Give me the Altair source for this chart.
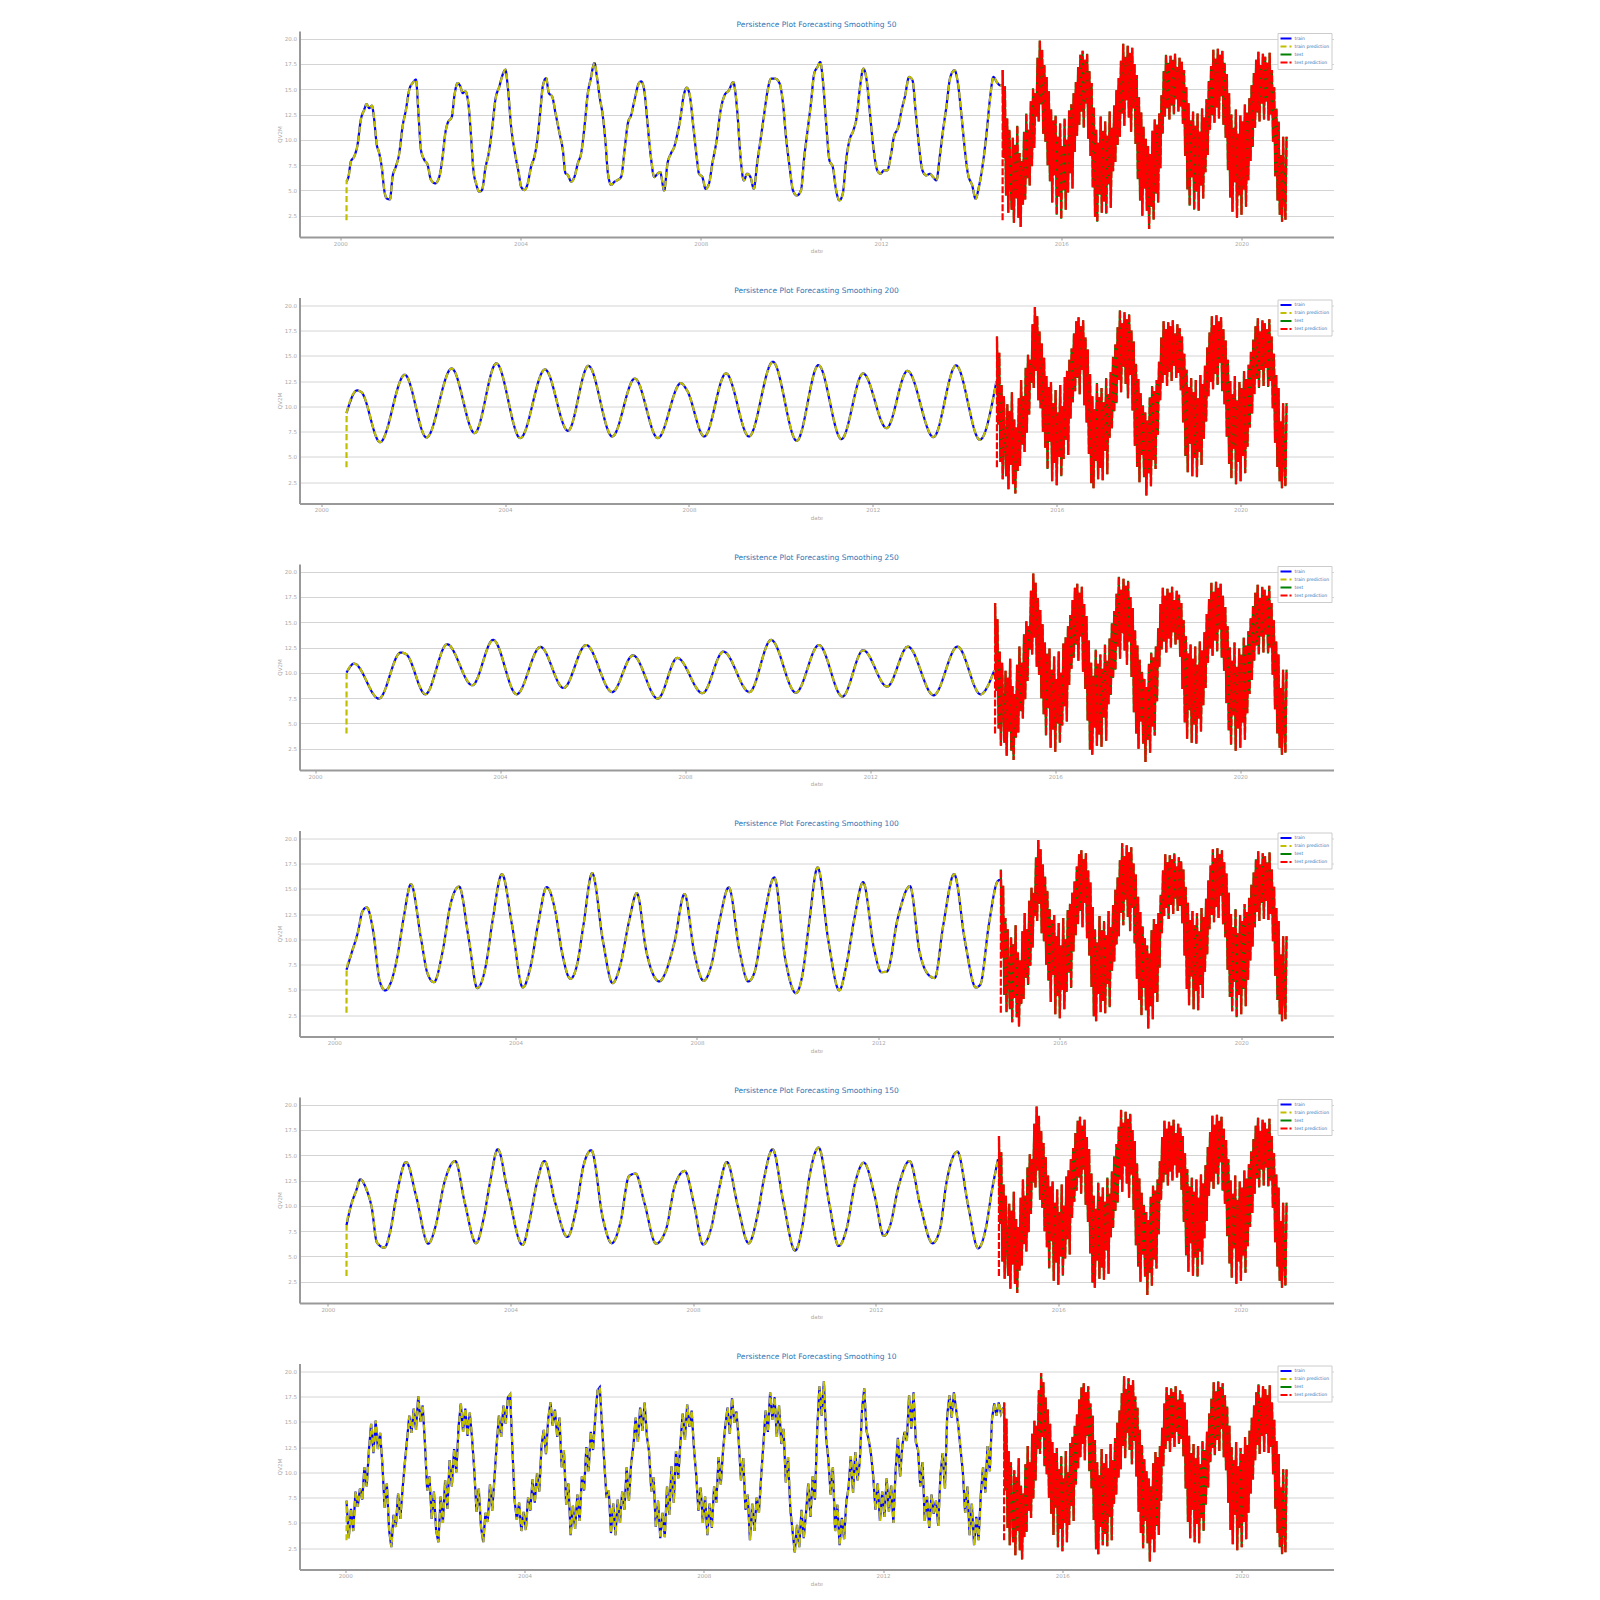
import altair as alt
import pandas as pd

DAY = 1.0 / 365.25
DATA_END = 2021.0

SERIES = ["train", "train prediction", "test", "test prediction"]
SERIES_COLORS = ["#0000ff", "#bfbf00", "#008000", "#ff0000"]
SERIES_DASH = [[1, 0], [6, 3], [1, 0], [7, 2]]
X_TICKS = [2000, 2004, 2008, 2012, 2016, 2020]
Y_TICKS = [2.5, 5.0, 7.5, 10.0, 12.5, 15.0, 17.5, 20.0]
Y_DOMAIN = [0.4, 20.75]

# ---------------- test series (shared by all panels) ----------------
TEST_VALUES = [
    16.9, 8.2, 15.3, 4.5, 12.1, 2.8, 11.0, 6.3, 3.1, 10.2,
    1.8, 9.5, 4.2, 11.4, 2.3, 8.7, 1.4, 7.9, 3.6, 10.8,
    4.1, 12.6, 6.2, 11.0, 5.5, 13.8, 7.4, 15.1, 9.2, 14.6,
    12.3, 18.1, 11.8, 19.8, 13.5, 18.9, 10.6, 17.4, 9.8, 16.2,
    7.5, 14.8, 5.9, 13.0, 3.8, 11.9, 6.5, 12.4, 2.6, 10.3,
    4.4, 11.6, 2.2, 9.4, 5.0, 12.1, 3.1, 10.0, 4.8, 12.9,
    6.7, 13.5, 5.2, 14.6, 8.8, 15.7, 10.4, 17.2, 11.5, 18.4,
    12.8, 18.8, 11.2, 17.9, 13.6, 18.5, 10.1, 16.8, 8.4, 15.6,
    5.3, 13.2, 2.4, 11.0, 1.9, 9.7, 4.6, 12.3, 2.8, 10.9,
    3.9, 11.8, 2.7, 10.4, 5.6, 12.8, 3.3, 11.2, 6.9, 13.4,
    7.8, 14.9, 9.5, 16.1, 10.3, 17.8, 12.6, 19.5, 11.4, 18.2,
    13.9, 19.3, 12.2, 18.6, 10.8, 19.1, 13.1, 17.5, 9.6, 16.4,
    6.1, 14.2, 4.0, 12.7, 2.5, 11.3, 5.2, 10.1, 3.0, 9.4,
    1.2, 8.6, 3.4, 10.9, 2.1, 12.0, 4.7, 11.5, 3.8, 12.6,
    7.2, 14.4, 10.6, 16.8, 12.3, 18.4, 13.1, 17.6, 12.0, 18.3,
    13.4, 17.9, 12.5, 18.5, 14.0, 17.2, 12.8, 18.1, 13.3, 17.7,
    11.6, 16.9, 8.4, 15.2, 5.1, 13.6, 3.5, 11.9, 6.3, 12.8,
    3.1, 11.4, 4.9, 12.6, 3.0, 10.8, 5.5, 13.1, 4.2, 12.2,
    6.8, 14.0, 8.5, 15.8, 11.0, 17.3, 12.4, 18.9, 11.7, 18.0,
    13.2, 19.0, 12.1, 18.4, 14.3, 18.8, 11.5, 17.6, 10.2, 16.5,
    7.0, 14.6, 4.3, 12.5, 2.9, 11.2, 5.8, 13.0, 2.3, 10.6,
    4.5, 12.4, 2.6, 11.8, 5.1, 13.5, 3.4, 12.7, 6.0, 14.1,
    7.9, 15.4, 9.3, 16.6, 11.2, 17.9, 12.7, 18.7, 11.8, 17.4,
    13.6, 18.5, 12.0, 18.2, 13.8, 17.6, 11.9, 18.6, 12.5, 16.9,
    9.8, 15.2, 6.4, 13.1, 4.0, 11.8, 2.6, 8.5, 1.9, 10.3,
    4.5, 2.1, 10.3,
]
TEST_YEARS = [round(2014.70 + 0.025 * i, 4) for i in range(len(TEST_VALUES))]

# ---------------- Smoothing 50 ----------------
P50_YEARS = [
    2000.141, 2000.185, 2000.237, 2000.311, 2000.385, 2000.459, 2000.533, 2000.585, 2000.644, 2000.704,
    2000.756, 2000.807, 2000.867, 2000.926, 2000.978, 2001.030, 2001.104, 2001.163, 2001.237, 2001.311,
    2001.385, 2001.459, 2001.533, 2001.607, 2001.681, 2001.741, 2001.793, 2001.867, 2001.941, 2002.015,
    2002.111, 2002.200, 2002.274, 2002.333, 2002.385, 2002.481, 2002.533, 2002.607, 2002.667, 2002.719,
    2002.778, 2002.852, 2002.904, 2002.956, 2003.015, 2003.089, 2003.148, 2003.222, 2003.296, 2003.370,
    2003.444, 2003.533, 2003.593, 2003.667, 2003.719, 2003.793, 2003.867, 2003.963, 2004.015, 2004.089,
    2004.163, 2004.237, 2004.311, 2004.385, 2004.444, 2004.496, 2004.570, 2004.630, 2004.704, 2004.778,
    2004.867, 2004.941, 2005.000, 2005.052, 2005.126, 2005.200, 2005.274, 2005.348, 2005.422, 2005.496,
    2005.556, 2005.644, 2005.696, 2005.756, 2005.830, 2005.889, 2005.941, 2006.015, 2006.089, 2006.163,
    2006.237, 2006.311, 2006.385, 2006.459, 2006.533, 2006.630, 2006.681,
    2006.748, 2006.821, 2006.895, 2006.969, 2007.042, 2007.101, 2007.190, 2007.263, 2007.337, 2007.411,
    2007.484, 2007.543, 2007.617, 2007.691, 2007.764, 2007.838, 2007.912, 2007.963, 2008.037, 2008.110,
    2008.184, 2008.258, 2008.354, 2008.442, 2008.530, 2008.626, 2008.722, 2008.810, 2008.884, 2008.958,
    2009.031, 2009.105, 2009.179, 2009.252, 2009.326, 2009.400, 2009.473, 2009.562, 2009.657, 2009.753,
    2009.827, 2009.901, 2009.974, 2010.048, 2010.136, 2010.225, 2010.298, 2010.372, 2010.446, 2010.519,
    2010.593, 2010.652, 2010.711, 2010.785, 2010.858, 2010.932, 2011.006, 2011.079, 2011.153, 2011.227,
    2011.300, 2011.389, 2011.462, 2011.536, 2011.610, 2011.683, 2011.757, 2011.831, 2011.919, 2011.993,
    2012.066, 2012.140, 2012.214, 2012.287, 2012.383, 2012.457, 2012.530, 2012.626, 2012.700, 2012.774,
    2012.847, 2012.921, 2013.009, 2013.083, 2013.157, 2013.230, 2013.304, 2013.378, 2013.451, 2013.540,
    2013.635, 2013.709, 2013.783, 2013.856, 2013.930, 2014.026, 2014.100, 2014.173, 2014.262, 2014.350,
    2014.424, 2014.497, 2014.571, 2014.645, 2014.689,
]
P50_VALUES = [
    5.87, 6.36, 7.85, 8.35, 9.5, 12.0, 12.97, 13.53, 13.13, 13.37,
    11.98, 9.67, 8.68, 7.19, 5.04, 4.22, 4.12, 6.36, 7.36, 8.68,
    11.32, 12.97, 14.95, 15.61, 15.94, 12.31, 9.01, 8.02, 7.52, 6.04,
    5.7, 6.36, 8.35, 10.66, 11.65, 12.31, 14.29, 15.61, 15.28, 14.62,
    14.78, 13.3, 10.33, 7.03, 5.7, 4.88, 5.04, 7.19, 8.68, 10.99,
    13.96, 15.28, 16.27, 16.93, 15.28, 11.32, 9.01, 6.7, 5.37, 5.04,
    5.7, 7.36, 8.35, 10.33, 12.97, 15.28, 16.1, 14.62, 14.29, 12.64,
    10.66, 9.01, 6.7, 6.53, 5.87, 6.36, 7.69, 8.68, 11.32, 14.62,
    15.94, 17.59, 16.27, 14.29, 12.31, 9.67, 6.7, 5.54, 5.87, 6.04,
    6.36, 9.01, 11.65, 12.47, 13.96, 15.61, 15.77,
    14.89, 11.59, 8.3, 6.32, 6.65, 6.81, 5.0, 7.64, 8.63, 9.28,
    10.6, 11.92, 14.23, 15.15, 14.23, 11.26, 8.3, 6.65, 6.32, 5.16,
    5.66, 7.64, 9.94, 12.91, 14.4, 14.89, 15.71, 12.91, 8.3, 5.99,
    6.65, 6.32, 5.16, 7.64, 9.94, 12.25, 14.56, 16.04, 16.04, 15.55,
    13.57, 9.94, 7.31, 5.0, 4.5, 5.0, 8.3, 10.93, 13.57, 16.54,
    17.2, 17.69, 15.88, 11.59, 7.97, 7.31, 5.0, 4.01, 4.67, 7.97,
    9.94, 10.93, 12.25, 15.22, 17.03, 15.88, 12.58, 9.28, 6.98, 6.65,
    6.98, 6.98, 8.3, 10.27, 11.26, 12.91, 14.23, 16.21, 15.88, 12.58,
    9.28, 6.98, 6.48, 6.65, 6.32, 5.99, 8.3, 10.93, 13.24, 16.21,
    16.87, 15.55, 12.58, 9.28, 6.65, 5.49, 4.17, 5.33, 7.64, 10.93,
    14.23, 16.21, 15.71, 15.38, 15.38,
]

# ---------------- Smoothing 200 ----------------
P200_YEARS = [2000.55, 2000.779, 2000.874, 2001.280, 2001.818, 2002.290, 2002.838, 2003.338, 2003.810,
              2004.330, 2004.868, 2005.368, 2005.812, 2006.331, 2006.822, 2007.323, 2007.823, 2007.955,
              2008.333, 2008.805, 2009.306, 2009.825, 2010.345, 2010.817, 2011.317, 2011.789, 2012.299,
              2012.753, 2013.319, 2013.810, 2014.329, 2014.688]
P200_VALUES = [9.33, 11.57, 11.4, 6.46, 13.12, 6.92, 13.74, 7.35, 14.24,
               6.86, 13.64, 7.58, 14.0, 7.02, 12.75, 6.86, 12.29, 11.6,
               7.02, 13.25, 7.02, 14.4, 6.59, 14.07, 6.76, 13.25, 7.85,
               13.5, 6.96, 14.04, 6.69, 12.46]

# ---------------- Smoothing 250 ----------------
P250_YEARS = [2000.68, 2000.845, 2001.380, 2001.850, 2001.972, 2002.385, 2002.854, 2003.399, 2003.850,
              2004.357, 2004.873, 2005.371, 2005.859, 2006.423, 2006.873, 2007.408, 2007.831, 2008.376,
              2008.826, 2009.390, 2009.859, 2010.394, 2010.892, 2011.399, 2011.850, 2012.366, 2012.817,
              2013.371, 2013.887, 2014.385, 2014.680]
P250_VALUES = [10.02, 10.91, 7.45, 12.0, 11.83, 7.88, 12.82, 8.77, 13.25,
               7.88, 12.56, 8.5, 12.75, 8.1, 11.73, 7.45, 11.47, 7.98,
               12.1, 8.1, 13.25, 8.04, 12.75, 7.65, 12.23, 8.64, 12.59,
               7.78, 12.59, 7.88, 10.2]

# ---------------- Smoothing 100 ----------------
P100_YEARS = [2000.271, 2000.382, 2000.526, 2000.621, 2000.717, 2000.860, 2001.004, 2001.128, 2001.243, 2001.386,
              2001.530, 2001.692, 2001.912, 2002.055, 2002.199, 2002.390, 2002.562, 2002.753, 2002.964, 2003.155,
              2003.346, 2003.489, 2003.700, 2003.920, 2004.159, 2004.321, 2004.493, 2004.685, 2004.876, 2005.019,
              2005.210, 2005.354, 2005.497, 2005.688, 2005.927, 2006.138, 2006.310, 2006.501, 2006.673, 2006.883,
              2007.170, 2007.314, 2007.505, 2007.725, 2007.935, 2008.145, 2008.317, 2008.509, 2008.700, 2008.939,
              2009.130, 2009.273, 2009.465, 2009.704, 2009.943, 2010.182, 2010.325, 2010.468, 2010.660, 2010.899,
              2011.138, 2011.281, 2011.472, 2011.663, 2011.902, 2012.065, 2012.189, 2012.428, 2012.696, 2012.906,
              2013.145, 2013.241, 2013.432, 2013.671, 2013.910, 2014.149, 2014.245, 2014.436, 2014.627, 2014.690]
P100_VALUES = [6.99, 8.64, 10.78, 12.75, 13.15, 10.78, 5.84, 4.95, 5.67, 8.14,
               12.1, 15.45, 10.12, 6.66, 5.77, 8.8, 13.41, 15.22, 10.12, 5.18,
               7.48, 11.77, 16.44, 11.44, 5.24, 7.15, 11.44, 15.16, 12.75, 8.8,
               6.1, 7.48, 11.44, 16.54, 9.79, 5.67, 7.48, 11.77, 14.57, 8.8,
               5.84, 6.82, 9.79, 14.47, 8.8, 5.9, 7.48, 12.1, 15.13, 8.8,
               5.84, 6.82, 11.77, 16.11, 8.14, 4.68, 6.5, 11.44, 17.1, 9.79,
               4.95, 7.15, 12.1, 15.65, 9.13, 6.76, 6.82, 12.1, 15.26, 8.8,
               6.33, 6.17, 11.44, 16.44, 9.79, 5.24, 5.5, 11.44, 15.72, 15.9]

# ---------------- Smoothing 150 ----------------
P150_YEARS = [2000.408, 2000.503, 2000.618, 2000.713, 2000.837, 2000.960, 2001.075, 2001.237, 2001.360, 2001.503,
              2001.713, 2001.932, 2002.198, 2002.360, 2002.551, 2002.789, 2002.998, 2003.246, 2003.408, 2003.551,
              2003.722, 2003.932, 2004.265, 2004.408, 2004.580, 2004.741, 2004.979, 2005.246, 2005.437, 2005.598,
              2005.770, 2006.027, 2006.218, 2006.408, 2006.598, 2006.741, 2006.932, 2007.189, 2007.408, 2007.598,
              2007.817, 2008.027, 2008.218, 2008.389, 2008.551, 2008.741, 2008.979, 2009.217, 2009.408, 2009.551,
              2009.741, 2009.979, 2010.236, 2010.408, 2010.551, 2010.751, 2010.979, 2011.189, 2011.360, 2011.551,
              2011.741, 2011.979, 2012.179, 2012.313, 2012.503, 2012.741, 2012.979, 2013.246, 2013.408, 2013.551,
              2013.789, 2014.027, 2014.246, 2014.408, 2014.551, 2014.680]
P150_VALUES = [8.08, 9.99, 11.47, 12.62, 11.7, 9.82, 6.36, 5.87, 7.35, 10.98,
               14.33, 10.98, 6.26, 8.01, 12.29, 14.43, 10.32, 6.3, 8.67, 12.29,
               15.59, 11.63, 6.13, 8.34, 12.29, 14.43, 10.32, 6.92, 9.66, 13.94,
               15.49, 8.67, 6.3, 8.34, 12.95, 13.18, 10.32, 6.26, 7.68, 11.96,
               13.45, 9.99, 6.17, 7.68, 11.3, 14.33, 9.99, 6.3, 9.0, 12.62,
               15.59, 10.32, 5.57, 8.34, 12.95, 15.75, 10.32, 6.03, 7.68, 12.29,
               14.27, 10.98, 7.02, 8.01, 11.96, 14.43, 9.99, 6.3, 7.68, 12.29,
               15.36, 9.99, 5.8, 7.68, 11.63, 14.6]

# ---------------- Smoothing 10 ----------------
P10_VALUES = [
    7.2, 3.5, 6.4, 4.2, 8.1, 6.6, 8.4, 7.3, 10.5, 8.6,
    12.2, 14.8, 11.9, 15.1, 12.3, 13.9, 10.8, 6.5, 8.9, 4.3,
    2.6, 5.8, 4.6, 7.9, 5.4, 8.3, 10.9, 13.2, 15.6, 13.9,
    16.3, 14.2, 17.5, 15.0, 16.6, 12.8, 8.2, 9.6, 5.4, 8.1,
    4.2, 3.1, 7.6, 5.0, 9.2, 6.4, 11.2, 8.6, 12.3, 10.0,
    14.5, 16.8, 14.0, 16.3, 13.6, 15.9, 13.4, 10.2, 6.1, 8.4,
    4.6, 3.1, 6.0, 5.1, 8.8, 6.2, 9.4, 12.8, 15.6, 13.5,
    16.6, 14.8, 17.4, 17.7, 12.4, 7.2, 5.3, 7.0, 4.2, 6.1,
    4.3, 7.5, 6.2, 9.3, 7.0, 9.9, 8.1, 12.6, 14.2, 11.8,
    15.3, 16.9, 14.6, 16.2, 13.5, 15.4, 10.5, 12.2, 6.8, 8.9,
    3.8, 6.7, 4.4, 7.8, 5.2, 9.6, 8.2, 12.5, 10.1, 14.0,
    12.2, 15.5, 18.1, 18.4, 14.6, 11.0, 7.5, 8.2, 4.0, 6.9,
    3.8, 7.3, 5.0, 8.1, 6.3, 10.5, 7.2, 10.9, 12.6, 15.4,
    13.0, 16.4, 14.1, 16.9, 13.6, 12.0, 8.1, 9.5, 4.6, 7.2,
    3.5, 6.0, 3.6, 8.6, 5.8, 10.6, 7.0, 12.1, 9.4, 13.0,
    15.8, 13.2, 16.7, 14.5, 16.1, 12.4, 9.8, 6.2, 8.5, 5.0,
    7.6, 3.8, 6.9, 4.5, 8.6, 7.0, 11.5, 8.8, 12.2, 14.6,
    16.4, 13.8, 17.3, 14.9, 16.0, 13.1, 9.2, 11.4, 6.3, 7.8,
    3.3, 6.9, 4.2, 7.5, 6.0, 9.6, 12.8, 16.1, 14.0, 17.9,
    15.2, 17.4, 13.5, 16.6, 12.8, 14.3, 9.0, 11.5, 6.4, 4.2,
    2.1, 4.8, 2.6, 6.3, 3.5, 5.9, 8.9, 5.6, 9.6, 7.3,
    14.2, 18.5, 15.6, 19.0, 13.4, 11.2, 7.8, 10.5, 4.2, 6.8,
    2.8, 5.5, 3.4, 7.1, 8.5, 11.6, 8.0, 12.0, 9.2, 11.0,
    16.2, 18.3, 14.1, 13.2, 11.8, 9.6, 6.3, 8.9, 5.2, 8.1,
    5.6, 9.4, 6.1, 8.7, 5.0, 10.2, 13.4, 9.6, 12.7, 14.0,
    13.1, 17.6, 14.3, 17.9, 13.0, 12.2, 8.6, 11.0, 5.2, 7.6,
    4.5, 7.8, 5.9, 7.2, 4.7, 9.8, 11.9, 8.4, 15.6, 17.6,
    15.4, 17.9, 16.2, 14.5, 12.2, 10.0, 6.0, 8.6, 3.8, 6.9,
    2.8, 5.6, 3.3, 7.8, 10.5, 8.0, 12.6, 10.1, 15.3, 16.8,
    15.6, 16.9, 15.8, 16.4,
]
P10_YEARS = [round(2000.03 + 0.05 * i, 4) for i in range(len(P10_VALUES))]

PANELS = [
    ("Persistence Plot Forecasting Smoothing 50", P50_YEARS, P50_VALUES, 2.05, True),
    ("Persistence Plot Forecasting Smoothing 200", P200_YEARS, P200_VALUES, 3.98, True),
    ("Persistence Plot Forecasting Smoothing 250", P250_YEARS, P250_VALUES, 4.0, True),
    ("Persistence Plot Forecasting Smoothing 100", P100_YEARS, P100_VALUES, 2.75, True),
    ("Persistence Plot Forecasting Smoothing 150", P150_YEARS, P150_VALUES, 3.07, True),
    ("Persistence Plot Forecasting Smoothing 10", P10_YEARS, P10_VALUES, 3.3, False),
]

BLUE_TEXT = "#2f74b5"
LEGEND = alt.Legend(
    title=None, orient="top-right", offset=2,
    symbolType="M-1,0L3.4,0", symbolSize=25, symbolStrokeWidth=2,
    labelFontSize=4.5, labelColor=BLUE_TEXT, labelFont="DejaVu Sans",
    labelOffset=8, rowPadding=-3.5, padding=2,
    fillColor="white", strokeColor="#cccccc",
)


def make_panel(title, years, values, first_pred, smooth):
    n = min(len(years), len(values))
    years, values = years[:n], values[:n]
    rows = []
    for y, v in zip(years, values):
        rows.append({"year": y, "value": v, "series": "train"})
    rows.append({"year": years[0], "value": first_pred, "series": "train prediction"})
    for y, v in zip(years, values):
        rows.append({"year": y + DAY, "value": v, "series": "train prediction"})
    for y, v in zip(TEST_YEARS, TEST_VALUES):
        rows.append({"year": y, "value": v, "series": "test"})
    rows.append({"year": TEST_YEARS[0], "value": first_pred, "series": "test prediction"})
    for y, v in zip(TEST_YEARS, TEST_VALUES):
        rows.append({"year": y + DAY, "value": v, "series": "test prediction"})
    df = pd.DataFrame(rows)

    span = DATA_END - years[0]
    xdom = [years[0] - 0.05 * span, DATA_END + 0.05 * span]

    x = alt.X("year:Q", scale=alt.Scale(domain=xdom, nice=False, zero=False),
              axis=alt.Axis(values=X_TICKS, format="d", title="date", grid=False))
    y = alt.Y("value:Q", scale=alt.Scale(domain=Y_DOMAIN, nice=False, zero=False),
              axis=alt.Axis(values=Y_TICKS, format=".1f", title="QV2M"))
    color = alt.Color("series:N", scale=alt.Scale(domain=SERIES, range=SERIES_COLORS), legend=LEGEND)
    dash = alt.StrokeDash("series:N", scale=alt.Scale(domain=SERIES, range=SERIES_DASH), legend=LEGEND)

    base = alt.Chart(df)
    layers = []
    for s in SERIES:
        interp = "monotone" if (smooth and s.startswith("train")) else "linear"
        layers.append(
            base.transform_filter(alt.datum.series == s)
            .mark_line(interpolate=interp, strokeWidth=2.2)
            .encode(x=x, y=y, color=color, strokeDash=dash)
        )
    return alt.layer(*layers).properties(width=1034, height=206, title=title)


charts = [make_panel(*p) for p in PANELS]

chart = (
    alt.vconcat(*charts, spacing=32.5)
    .resolve_scale(x="independent", color="independent", strokeDash="independent")
    .resolve_legend(color="independent", strokeDash="independent")
    .properties(padding={"left": 276.5, "top": 20, "right": 10, "bottom": 5}, background="white")
    .configure_view(stroke=None)
    .configure_axis(
        labelFont="DejaVu Sans", labelFontSize=5.5, labelColor="#aaaaaa",
        titleFont="DejaVu Sans", titleFontSize=5.5, titleColor="#aaaaaa", titleFontWeight="normal",
        domainColor="#999999", domainWidth=2, gridColor="#d4d4d4", gridWidth=1,
        tickColor="#999999", tickSize=3,
    )
    .configure_axisY(ticks=False, labelPadding=3, titlePadding=2)
    .configure_axisX(labelPadding=1, titlePadding=2)
    .configure_title(font="DejaVu Sans", fontSize=7.5, color=BLUE_TEXT, fontWeight="normal",
                     offset=3, anchor="middle")
)

chart.save("out.html", embed_options={"renderer": "svg", "actions": False})
